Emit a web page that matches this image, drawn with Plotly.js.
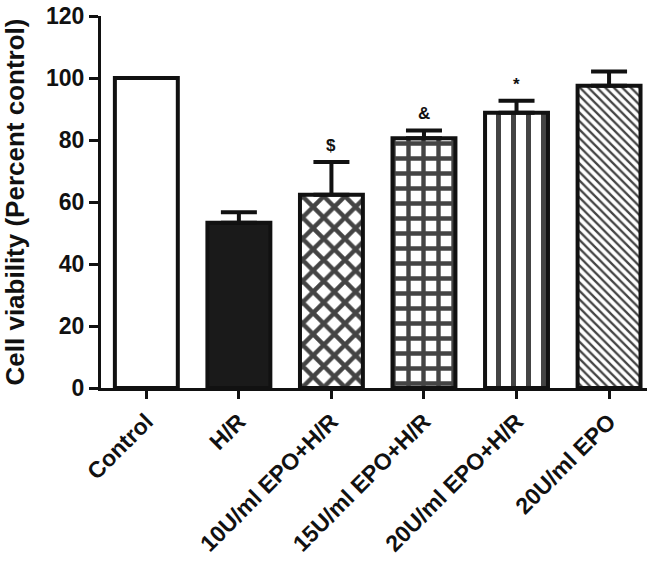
<!DOCTYPE html>
<html>
<head>
<meta charset="utf-8">
<script src="https://cdn.plot.ly/plotly-3.0.1.min.js"></script>
<style>html,body{margin:0;padding:0;background:#fff;}#chart{width:664px;height:573px;}</style>
</head>
<body>
<div id="chart"></div>
<script>
var categories = ["Control", "H/R", "10U/ml EPO+H/R", "15U/ml EPO+H/R", "20U/ml EPO+H/R", "20U/ml EPO"];
var viability = [100, 53.3, 62.3, 80.6, 88.8, 97.5];
var sem = [0, 3.4, 10.6, 2.5, 3.9, 4.6];
var sigLabels = ["", "", "$", "&", "*", ""];
var yTicks = [0, 20, 40, 60, 80, 100, 120];

var fillColors = ["#ffffff", "#1a1a1a", "#ffffff", "#ffffff", "#ffffff", "#ffffff"];
var patternShapes = ["", "", "x", "+", "|", "\\"];
var patternSizes = [10, 10, 15, 15, 15, 6];
var patternSolid = [0.3, 0.3, 0.5, 0.5, 0.33, 0.38];

var font = "Arial, 'Liberation Sans', sans-serif";

var trace = {
  type: "bar",
  x: categories,
  y: viability,
  width: 0.68,
  marker: {
    color: fillColors,
    line: {color: "#111", width: 4},
    pattern: {shape: patternShapes, size: patternSizes, solidity: patternSolid, fgcolor: "#111", fgopacity: 1, bgcolor: "#ffffff", fillmode: "overlay"}
  },
  error_y: {type: "data", symmetric: false, array: sem, arrayminus: sem.map(function(){return 0;}), color: "#111", thickness: 4, width: 18},
  hoverinfo: "skip"
};

var annotations = [];
for (var i = 0; i < categories.length; i++) {
  if (sigLabels[i]) {
    annotations.push({x: categories[i], y: viability[i] + sem[i], xref: "x", yref: "y", text: sigLabels[i], showarrow: false, yanchor: "bottom", yshift: 5, font: {family: font, size: 17, color: "#111", weight: "bold"}});
  }
}

var layout = {
  width: 664, height: 573,
  margin: {l: 101, r: 17, t: 16, b: 185},
  paper_bgcolor: "#fff", plot_bgcolor: "#fff",
  showlegend: false,
  xaxis: {
    range: [-0.49, 5.41], showgrid: false, zeroline: false,
    showline: true, linecolor: "#111", linewidth: 3,
    ticks: "outside", ticklen: 8, tickwidth: 3, tickcolor: "#111",
    tickangle: -45,
    tickfont: {family: font, size: 23, color: "#111", weight: "bold"}
  },
  yaxis: {
    range: [0, 120], tickvals: yTicks, showgrid: false, zeroline: false,
    showline: true, linecolor: "#111", linewidth: 3,
    ticks: "outside", ticklen: 9, tickwidth: 3, tickcolor: "#111",
    tickfont: {family: font, size: 23, color: "#111", weight: "bold"},
    title: {text: "Cell viability (Percent control)", font: {family: font, size: 26, color: "#111", weight: "bold"}, standoff: 14}
  },
  annotations: annotations
};

Plotly.newPlot("chart", [trace], layout, {displayModeBar: false, staticPlot: true});
</script>
</body>
</html>
